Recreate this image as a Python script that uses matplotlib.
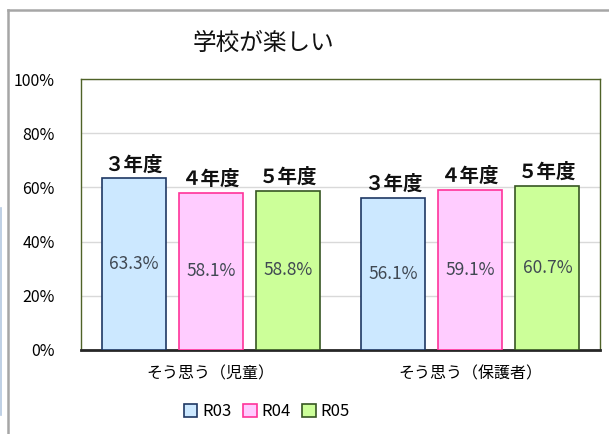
import numpy as np
import matplotlib
matplotlib.use('Agg')
import matplotlib.pyplot as plt
from matplotlib.patches import Patch
from matplotlib.lines import Line2D

plt.rcParams['font.family'] = ['Noto Sans CJK JP', 'DejaVu Sans']

# Data
categories = ['そう思う（児童）', 'そう思う（保護者）']
series_names = ['R03', 'R04', 'R05']
year_labels = ['３年度', '４年度', '５年度']
r03 = [63.3, 56.1]
r04 = [58.1, 59.1]
r05 = [58.8, 60.7]
y_ticks = [0, 20, 40, 60, 80, 100]

# Styles
fills = ['#CCE8FF', '#FFCCFF', '#CCFF99']
edges = ['#1F3864', '#FF3399', '#375623']

fig = plt.figure(figsize=(6.09, 4.34), dpi=100)
ax = fig.add_axes([81 / 609, 1 - 350 / 434, 519 / 609, 271 / 434])

x = np.arange(len(categories))
width = 0.247
step = 0.297
for i, vals in enumerate([r03, r04, r05]):
    pos = x + (i - 1) * step
    bars = ax.bar(pos, vals, width, color=fills[i], edgecolor=edges[i],
                  linewidth=1.2, zorder=3, label=series_names[i])
    for p, v in zip(pos, vals):
        # value inside the bar
        ax.text(p, v / 2, f'{v:.1f}%', ha='center', va='center',
                fontsize=12.5, color='#404852', zorder=4)
        # year label above the bar
        ax.annotate(year_labels[i], (p, v), xytext=(0, 3),
                    textcoords='offset points', ha='center', va='bottom',
                    fontsize=14, fontweight='bold', color='#111111')

ax.set_xlim(-0.5, 1.5)
ax.set_ylim(0, 100)
ax.set_yticks(y_ticks)
ax.set_yticklabels([f'{t}%' for t in y_ticks])
ax.set_xticks(x)
ax.set_xticklabels(categories)
ax.tick_params(axis='y', length=0, pad=19, labelsize=11.5)
ax.tick_params(axis='x', length=0, pad=11, labelsize=11.5)
ax.grid(axis='y', color='#D9D9D9', linewidth=1, zorder=0)
for s in ['left', 'top', 'right']:
    ax.spines[s].set_color('#4F6228')
    ax.spines[s].set_linewidth(1)
ax.spines['bottom'].set_color('#262626')
ax.spines['bottom'].set_linewidth(2)

# Chart title
fig.text(263 / 609, 1 - 43 / 434, '学校が楽しい', ha='center', va='center',
         fontsize=17, color='#111111')

# Legend
handles = [Patch(facecolor=fills[i], edgecolor=edges[i], linewidth=1.2,
                 label=series_names[i]) for i in range(3)]
fig.legend(handles=handles, loc='center', bbox_to_anchor=(267 / 609, 1 - 412 / 434),
           ncol=3, frameon=False, fontsize=12, handlelength=0.8,
           handleheight=0.8, handletextpad=0.3, columnspacing=0.7)

# Outer chart frame and screenshot edge
fig.add_artist(Line2D([7.5 / 609, 7.5 / 609], [0, 1 - 10 / 434],
                      color='#A6A6A6', linewidth=1.8))
fig.add_artist(Line2D([7.5 / 609, 1], [1 - 10 / 434, 1 - 10 / 434],
                      color='#A6A6A6', linewidth=1.8))
fig.add_artist(Line2D([0.8 / 609, 0.8 / 609], [1 - 415 / 434, 1 - 208 / 434],
                      color='#B4C8E0', linewidth=1.2))

fig.savefig('out.png', dpi=100)
